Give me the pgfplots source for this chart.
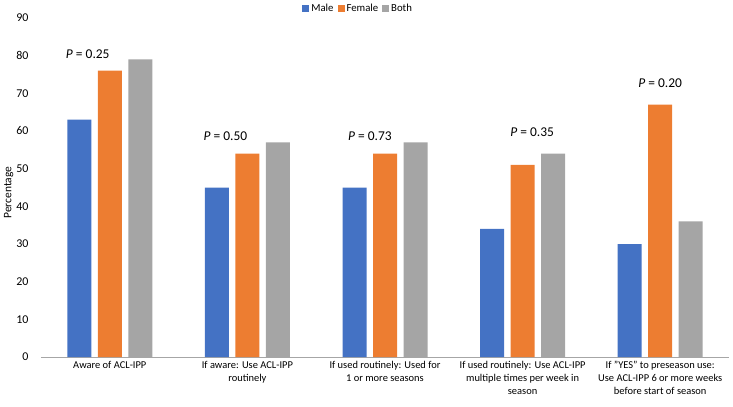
\documentclass[border=0pt]{standalone}
\usepackage{fontspec}
\setmainfont{Carlito}
\usepackage{pgfplots}
\pgfplotsset{compat=1.18}
\definecolor{cmale}{HTML}{4472C4}
\definecolor{cfemale}{HTML}{ED7D31}
\definecolor{cboth}{HTML}{A5A5A5}
\begin{document}
\begin{tikzpicture}
\path[use as bounding box] (-41bp,-50bp) rectangle (692bp,357bp);
\begin{axis}[
  at={(0,0)}, anchor=south west,
  scale only axis,
  width=688bp, height=339bp,
  ybar=6.5bp, bar width=24bp,
  xmin=-0.5, xmax=4.5, ymin=0, ymax=90,
  ytick={0,10,...,90},
  xtick={0,1,2,3,4},
  xticklabels={Aware of ACL-IPP,
    {If aware: Use ACL-IPP\\routinely},
    {If used routinely: Used for\\1 or more seasons},
    {If used routinely: Use ACL-IPP\\multiple times per week in\\season},
    {If "YES" to preseason use:\\Use ACL-IPP 6 or more weeks\\before start of season}},
  xticklabel style={align=center, font=\fontsize{10.5}{13}\selectfont, yshift=-1bp},
  yticklabel style={font=\fontsize{12}{13}\selectfont, xshift=-9bp},
  /pgf/number format/assume math mode=true,
  axis x line=bottom, axis y line=left,
  x axis line style={draw=black!35, line width=0.8bp, -},
  y axis line style={draw=none},
  major tick length=0pt,
  ylabel={Percentage},
  ylabel style={font=\fontsize{11.5}{12}\selectfont, at={(axis description cs:-0.047,0.485)}, anchor=center},
  legend columns=3,
  legend style={at={(0.461,1.055)}, anchor=north, draw=none, font=\fontsize{10.8}{12}\selectfont, /tikz/every even column/.append style={column sep=2bp}},
  legend image code/.code={\fill[#1] (0bp,-3.5bp) rectangle (7bp,3.5bp);},
  clip=false,
]
\addplot[fill=cmale, draw=none] coordinates {(0,63) (1,45) (2,45) (3,34) (4,30)};
\addplot[fill=cfemale, draw=none] coordinates {(0,76) (1,54) (2,54) (3,51) (4,67)};
\addplot[fill=cboth, draw=none] coordinates {(0,79) (1,57) (2,57) (3,54) (4,36)};
\legend{Male, Female, Both}
\node[font=\fontsize{13.5}{15}\selectfont] at (axis cs:-0.16,80.5) {\textit{P} = 0.25};
\node[font=\fontsize{13.5}{15}\selectfont] at (axis cs:0.84,58.6) {\textit{P} = 0.50};
\node[font=\fontsize{13.5}{15}\selectfont] at (axis cs:1.89,58.6) {\textit{P} = 0.73};
\node[font=\fontsize{13.5}{15}\selectfont] at (axis cs:3.07,59.8) {\textit{P} = 0.35};
\node[font=\fontsize{13.5}{15}\selectfont] at (axis cs:4,72.7) {\textit{P} = 0.20};
\end{axis}
\end{tikzpicture}
\end{document}
